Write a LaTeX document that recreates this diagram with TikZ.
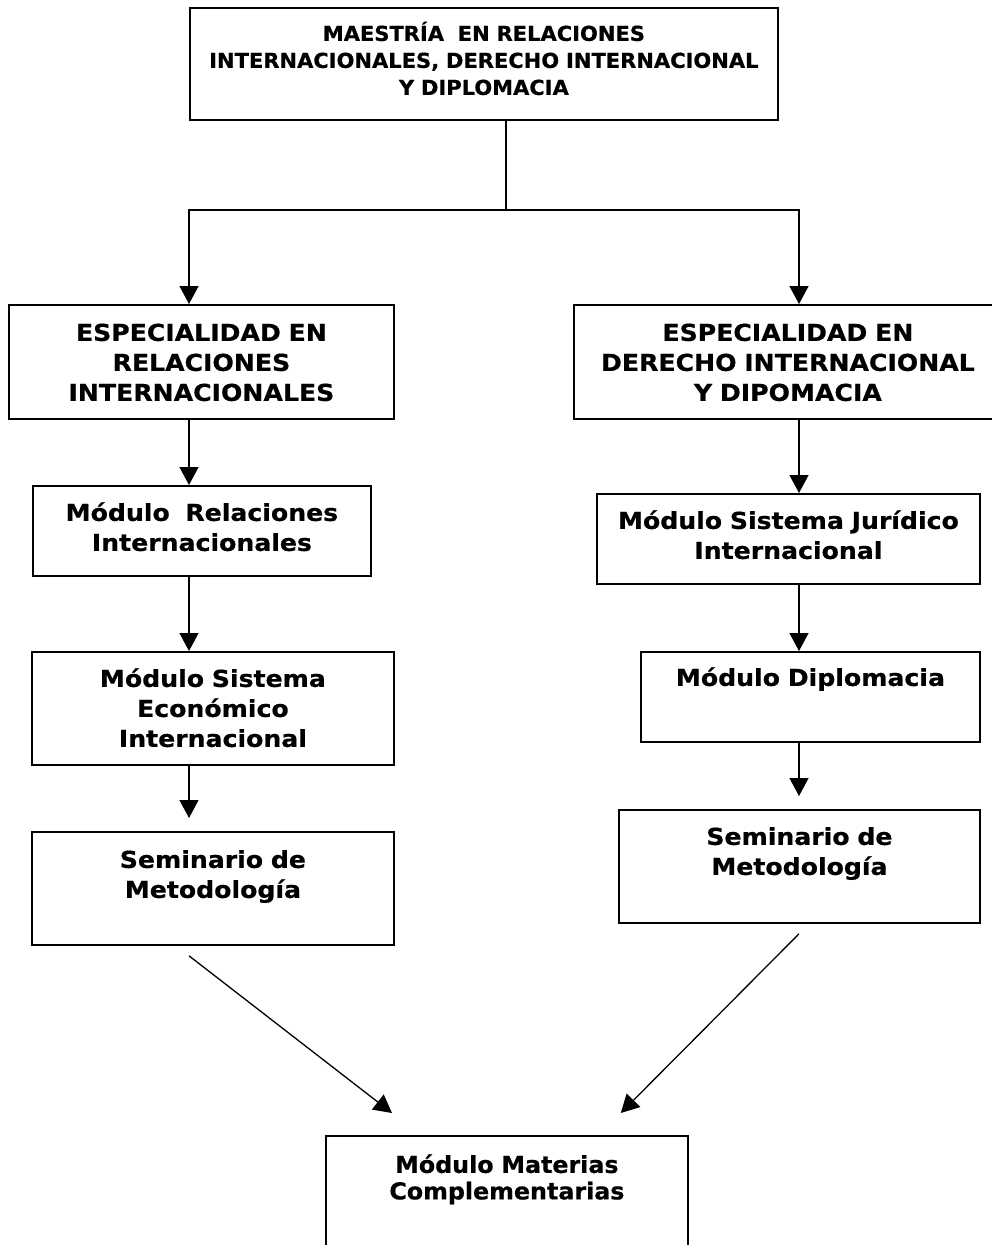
\documentclass[tikz,border=0pt]{standalone}
\usepackage{fontspec}
\setmainfont{DejaVu Sans}
\newfontfamily\verdana[FakeStretch=1.08, FakeBold=0.6]{DejaVu Sans}
\newfontfamily\tahoma[FakeStretch=1.02, FakeBold=0.6]{DejaVu Sans}
\usepackage{tikz}
\usetikzlibrary{positioning}
\usetikzlibrary{arrows.meta}

\tikzset{
	caja/.style={rectangle, draw, line width=1.8pt, inner sep=0pt, align=center, anchor=north west,
		font=\verdana\bfseries\fontsize{23.3}{30}\selectfont},
	cajat/.style={caja, font=\tahoma\bfseries\fontsize{20.6}{27}\selectfont},
	linea/.style={line width=1.3pt},
	flecha/.style={line width=1.3pt, -{Triangle[width=19pt,length=18pt]}}
}

\begin{document}
\begin{tikzpicture}[x=1pt, y=-1pt]
	\useasboundingbox (0,0) rectangle (992,1245);

	\node [cajat, text width=588pt, text height=33pt, text depth=79pt] (mri) at (189,7)
		{MAESTRÍA~ EN RELACIONES\\ INTERNACIONALES, DERECHO INTERNACIONAL\\ Y DIPLOMACIA};

	% especialidades
	\node [caja, text width=385pt, text height=36pt, text depth=78pt] (sri) at (8,304)
		{ESPECIALIDAD EN\\ RELACIONES\\ INTERNACIONALES};
	\node [caja, text width=428pt, text height=36pt, text depth=78pt] (sdi) at (573,304)
		{ESPECIALIDAD EN\\ DERECHO INTERNACIONAL\\ Y DIPOMACIA};

	% columna izquierda
	\node [caja, text width=338pt, text height=35pt, text depth=55pt] (mrel) at (32,485)
		{Módulo~ Relaciones\\ Internacionales};
	\node [caja, text width=362pt, text height=35pt, text depth=78pt] (msei) at (31,651)
		{Módulo Sistema\\ Económico\\ Internacional};
	\node [caja, text width=362pt, text height=36pt, text depth=77pt] (sem1) at (31,831)
		{Seminario de\\ Metodología};

	% columna derecha
	\node [caja, text width=383pt, text height=35pt, text depth=55pt] (msji) at (596,493)
		{Módulo Sistema Jurídico\\ Internacional};
	\node [caja, text width=339pt, text height=34pt, text depth=56pt] (mdip) at (640,651)
		{Módulo Diplomacia};
	\node [caja, text width=361pt, text height=35pt, text depth=78pt] (sem2) at (618,809)
		{Seminario de\\ Metodología};

	\node [cajat, font=\tahoma\bfseries\fontsize{23.3}{26.5}\selectfont,
		text width=362pt, text height=37pt, text depth=130pt] (mmc) at (325,1135)
		{Módulo Materias\\ Complementarias};

	\coordinate (colL) at (189,0);
	\coordinate (colR) at (799,0);
	\coordinate (split) at (506,210);

	\draw [linea] (mri.south -| split) -- (split);
	\draw [flecha] (split) -| (sri.north -| colL);
	\draw [flecha] (split) -| (sdi.north -| colR);

	\draw [flecha] (sri.south -| colL) -- (mrel.north -| colL);
	\draw [flecha] (mrel.south -| colL) -- (msei.north -| colL);
	\draw [flecha, shorten >=13pt] (msei.south -| colL) -- (sem1.north -| colL);

	\draw [flecha] (sdi.south -| colR) -- (msji.north -| colR);
	\draw [flecha] (msji.south -| colR) -- (mdip.north -| colR);
	\draw [flecha, shorten >=13pt] (mdip.south -| colR) -- (sem2.north -| colR);

	\draw [flecha] ([yshift=-10pt]sem1.south -| colL) -- ([xshift=67pt,yshift=22pt]mmc.north west);
	\draw [flecha] ([yshift=-10pt]sem2.south -| colR) -- ([xshift=-68pt,yshift=22pt]mmc.north east);
\end{tikzpicture}
\end{document}
